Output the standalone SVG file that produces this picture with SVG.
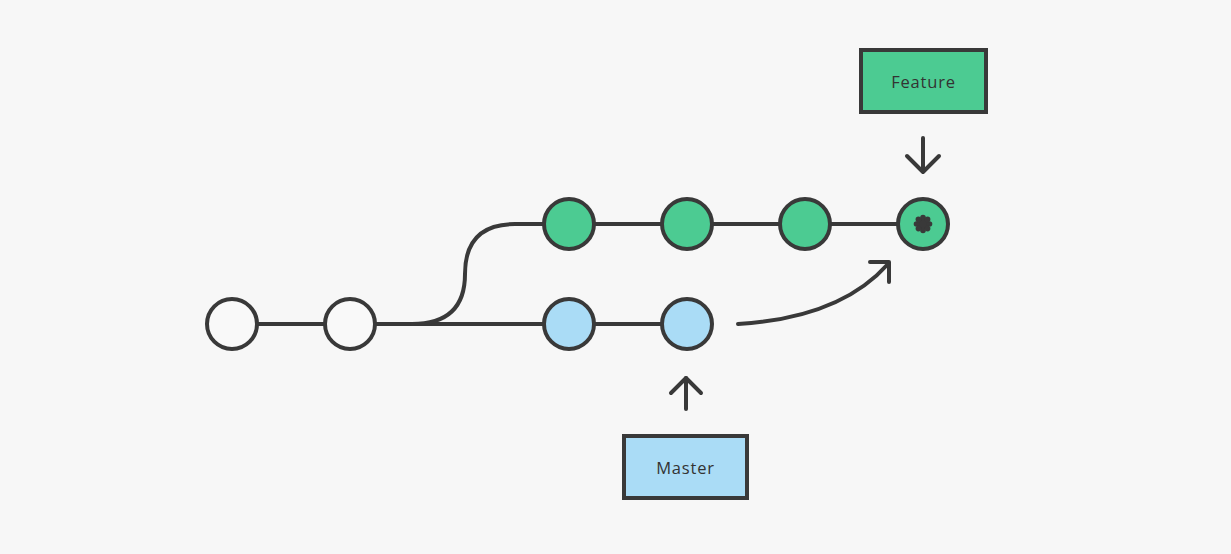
<svg xmlns="http://www.w3.org/2000/svg" width="1231" height="554" viewBox="0 0 1231 554">
<style>
.ln{fill:none;stroke:#393939;stroke-width:4;stroke-linecap:round;stroke-linejoin:round}
.c{stroke:#393939;stroke-width:4}
.w{fill:#f9f9f9}
.g{fill:#4ccb92}
.b{fill:#aadcf6}
.lbl{font-family:"Open Sans","Liberation Sans",sans-serif;font-size:16.5px;fill:#333;text-anchor:middle;letter-spacing:0.8px}
</style>
<rect width="1231" height="554" fill="#f7f7f7"/>
<g id="connectors">
<path class="ln" d="M232,324 L687,324"/>
<path class="ln" d="M412,324 Q465,324 465,274 Q465,224 515,224 L923,224"/>
<path class="ln" d="M738,324 Q840,318 888,264"/>
<path class="ln" d="M870,262 L889,262 L889,282"/>
<path class="ln" d="M923,138 L923,171"/>
<path class="ln" d="M907,156 L923,172 L939,156"/>
<path class="ln" d="M686,409 L686,378"/>
<path class="ln" d="M671,393 L686,378 L701,393"/>
</g>
<g id="c1"><circle class="c w" cx="232" cy="324" r="25"/></g>
<g id="c2"><circle class="c w" cx="350" cy="324" r="25"/></g>
<g id="m1"><circle class="c b" cx="569" cy="324" r="25"/></g>
<g id="m2"><circle class="c b" cx="687" cy="324" r="25"/></g>
<g id="f1"><circle class="c g" cx="569" cy="224" r="25"/></g>
<g id="f2"><circle class="c g" cx="687" cy="224" r="25"/></g>
<g id="f3"><circle class="c g" cx="805" cy="224" r="25"/></g>
<g id="f4"><circle class="c g" cx="923" cy="224" r="25"/>
<g fill="#393939">
<circle cx="923" cy="224" r="5.5"/>
<circle cx="923" cy="217.5" r="2.8"/><circle cx="923" cy="230.5" r="2.8"/>
<circle cx="916.5" cy="224" r="2.8"/><circle cx="929.5" cy="224" r="2.8"/>
<circle cx="918.4" cy="219.4" r="2.8"/><circle cx="927.6" cy="219.4" r="2.8"/>
<circle cx="918.4" cy="228.6" r="2.8"/><circle cx="927.6" cy="228.6" r="2.8"/>
</g>
</g>
<g id="feature"><rect x="861" y="50" width="125" height="62" class="c g"/><text x="923.5" y="88" class="lbl">Feature</text></g>
<g id="master"><rect x="624" y="436" width="123" height="62" class="c b"/><text x="685.5" y="474" class="lbl">Master</text></g>
</svg>
